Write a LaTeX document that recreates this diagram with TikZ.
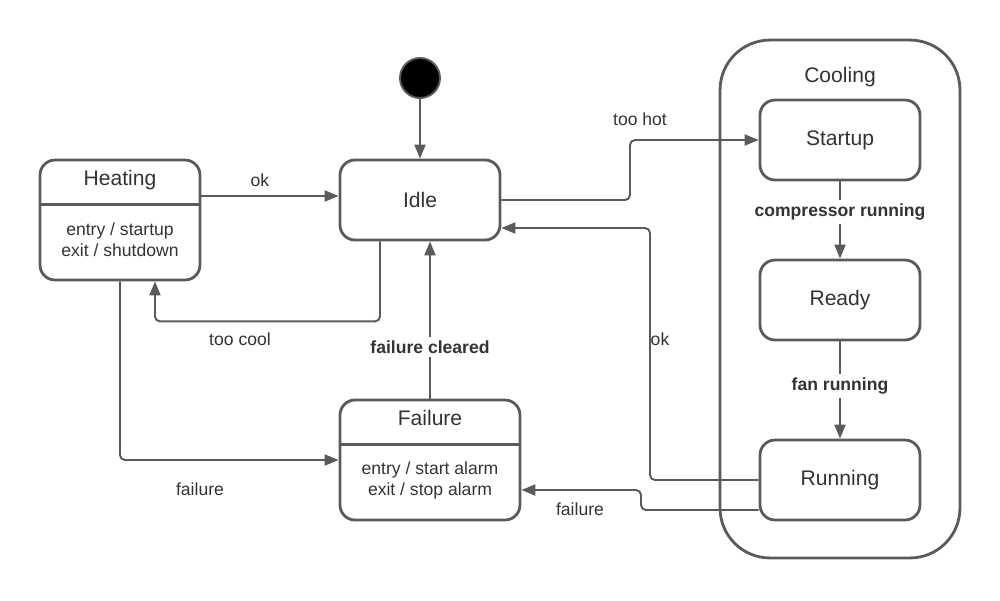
\documentclass[tikz,border=0pt]{standalone}
\usepackage{fontspec}
\setmainfont{Liberation Sans}
\usetikzlibrary{arrows.meta, calc, positioning}

\definecolor{linegray}{HTML}{5A5A5A}
\definecolor{textgray}{HTML}{333333}

\tikzset{
  state/.style={draw=linegray, line width=1.6pt, rounded corners=0.3cm, minimum width=3.2cm, minimum height=1.6cm, text=textgray, font=\fontsize{12}{14}\selectfont},
  split/.style={state, minimum height=2.4cm},
  title/.style={text=textgray, font=\fontsize{12}{14}\selectfont},
  body/.style={text=textgray, align=center, font=\fontsize{10}{12}\selectfont},
  lbl/.style={text=textgray, font=\fontsize{10}{12}\selectfont},
  blbl/.style={text=textgray, fill=white, inner sep=2pt, font=\bfseries\fontsize{10}{12}\selectfont},
  arr/.style={draw=linegray, line width=1.1pt, rounded corners=0.1cm, -{Triangle[length=0.28cm, width=0.22cm]}}
}

\begin{document}
\begin{tikzpicture}[x=0.02cm, y=-0.02cm]
\useasboundingbox (0,0) rectangle (1000,600);

% composite state
\node[draw=linegray, line width=1.6pt, rounded corners=1cm, minimum width=4.8cm, minimum height=10.36cm] (cooling) at (840,299) {};
\node[title] (coolingtitle) at (840,77) {Cooling};

% states
\node[circle, fill=black, draw=linegray, line width=1.1pt, minimum size=0.8cm] (init) at (420,78) {};
\node[state] (idle) at (420,200) {Idle};
\node[state] (startup) at (840,140) {Startup};
\node[state] (ready) at (840,300) {Ready};
\node[state] (running) at (840,480) {Running};

\node[split] (heating) at (120,220) {};
\node[title] (heatingtitle) at (120,180) {Heating};
\node[body] (heatingbody) at (120,240) {entry / startup\\exit / shutdown};
\draw[draw=linegray, line width=1.6pt] ($(heating.north west)!0.375!(heating.south west)$) -- ($(heating.north east)!0.375!(heating.south east)$);

\node[split, minimum width=3.6cm] (failure) at (430,460) {};
\node[title] (failuretitle) at (430,418) {Failure};
\node[body] (failurebody) at (430,480) {entry / start alarm\\exit / stop alarm};
\draw[draw=linegray, line width=1.6pt] ($(failure.north west)!0.375!(failure.south west)$) -- ($(failure.north east)!0.375!(failure.south east)$);

% transitions
\draw[arr] (init) -- (idle);
\draw[arr] ([yshift=0.08cm]heating.east |- idle.west) -- ([yshift=0.08cm]idle.west);
\draw[arr] ([xshift=-0.8cm]idle.south) -- ++(0,80) -| ([xshift=0.7cm]heating.south);
\draw[arr] (idle.east) -- (630,200) |- (startup.west);
\draw[arr] (startup) -- (ready);
\draw[arr] (ready) -- (running);
\draw[arr] (running.west) -| (650,228) -- ([yshift=-0.56cm]idle.east);
\draw[arr] ([yshift=-0.6cm]running.west) -- (641,510) -- (641,490) -- ([yshift=-0.6cm]failure.east);
\draw[arr] (heating.south) |- (failure.west);
\draw[arr] (failure.north) -- (failure.north |- idle.south);

% labels
\node[lbl] (okheat) at (260,180) {ok};
\node[lbl] (toocool) at (240,339) {too cool};
\node[lbl] (toohot) at (640,119) {too hot};
\node[lbl] (okcool) at (660,339) {ok};
\node[lbl] (failheat) at (200,489) {failure};
\node[lbl] (failrun) at (580,509) {failure};
\node[blbl] (compressor) at (840,212) {compressor running};
\node[blbl] (fan) at (840,386) {fan running};
\node[blbl] (cleared) at (430,347) {failure cleared};
\end{tikzpicture}
\end{document}
